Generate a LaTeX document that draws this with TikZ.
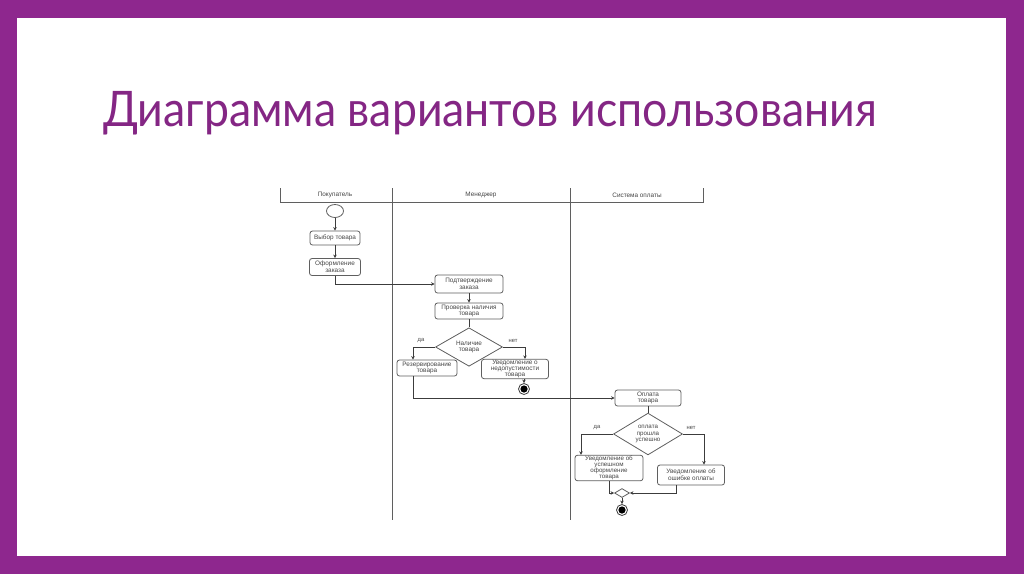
\documentclass[tikz,border=0pt]{standalone}
\usepackage{fontspec}
\setmainfont{Liberation Sans}
\newfontfamily\titlefont{Lato}
\usetikzlibrary{shapes.geometric, arrows.meta, positioning, calc}
\definecolor{cpurple}{RGB}{142, 39, 142}
\definecolor{ctitle}{RGB}{132, 38, 132}
\definecolor{cline}{RGB}{60, 60, 60}
\definecolor{cbox}{RGB}{95, 95, 95}
\definecolor{ctext}{RGB}{70, 70, 70}

\tikzset{
  actbox/.style={draw=cbox, line width=0.8pt, rounded corners=2.5pt, fill=white, align=center,
    text=ctext, inner sep=1pt, font=\fontsize{6.4}{6.8}\selectfont},
  choice/.style={draw=cbox, line width=0.8pt, diamond, fill=white, align=center, inner sep=0pt,
    text=ctext, font=\fontsize{6.4}{6.8}\selectfont},
  startnode/.style={ellipse, draw=cbox, line width=0.8pt, minimum width=17pt, minimum height=13pt},
  endnode/.style={circle, draw=cline, line width=0.8pt, minimum size=11pt, inner sep=0pt,
    path picture={\fill[black] (path picture bounding box.center) circle (3.6pt);}},
  flow/.style={draw=cline, line width=0.8pt, -{Stealth[length=3.5pt, width=3.5pt]}},
  plain/.style={draw=cline, line width=0.8pt},
  lane/.style={draw=cbox, line width=0.9pt},
  lanename/.style={text=ctext, font=\fontsize{6.4}{6.8}\selectfont},
  guard/.style={text=ctext, font=\fontsize{5.8}{6.4}\selectfont},
}

\begin{document}
\begin{tikzpicture}[x=1pt, y=-1pt]
  \useasboundingbox (0,0) rectangle (1024,574);
  \fill[cpurple] (0,0) rectangle (1024,574);
  \fill[white] (17,18) rectangle (1006,556);
  \node[anchor=base west, text=ctitle, inner sep=0pt, font=\titlefont\fontsize{49}{52}\selectfont]
    (title) at (103,126) {\scalebox{0.91}[1]{Диаграмма вариантов использования}};

  \draw[lane] (280,188) -- (280,202) -- (703,202) -- (703,188);
  \draw[lane] (392,188) -- (392,520);
  \draw[lane] (570,188) -- (570,520);
  \node[lanename] (buyer) at (335,195) {Покупатель};
  \node[lanename] (manager) at (481,195) {Менеджер};
  \node[lanename] (paysys) at (637,195) {Система оплаты};

  \node[startnode] (start) at (335,211) {};
  \node[actbox, minimum width=50pt, minimum height=14pt] (pick) at (335,238) {Выбор товара};
  \node[actbox, minimum width=51pt, minimum height=17pt] (order) at (335,267) {Оформление\\заказа};
  \node[actbox, minimum width=68pt, minimum height=18pt] (confirm) at (469,284) {Подтверждение\\заказа};
  \node[actbox, minimum width=68pt, minimum height=16pt] (check) at (469,311) {Проверка наличия\\товара};
  \node[choice, minimum width=67pt, minimum height=29pt] (avail) at (469,347) {Наличие\\товара};
  \node[actbox, minimum width=60pt, minimum height=16pt] (reserve) at (427,368) {Резервирование\\товара};
  \node[actbox, minimum width=67pt, minimum height=15pt, font=\fontsize{6.4}{5.8}\selectfont]
    (deny) at (515,369) {Уведомление о\\недопустимости\\товара};
  \node[endnode] (end1) at (524,389) {};

  \node[actbox, minimum width=66pt, minimum height=16pt] (pay) at (648,398) {Оплата\\товара};
  \node[choice, minimum width=69pt, minimum height=29pt, font=\fontsize{6.2}{6.2}\selectfont]
    (paid) at (648,434) {оплата\\прошла\\успешно};
  \node[actbox, minimum width=68pt, minimum height=21pt, font=\fontsize{6.2}{5.9}\selectfont]
    (ok) at (609,468) {Уведомление об\\успешном\\оформление\\товара};
  \node[actbox, minimum width=67pt, minimum height=20pt] (err) at (691,475) {Уведомление об\\ошибке оплаты};
  \node[choice, minimum width=15pt, minimum height=9pt] (merge) at (622,493) {};
  \node[endnode] (end2) at (622,510) {};

  \draw[flow] (start) -- (pick);
  \draw[flow] (pick) -- (order);
  \draw[flow] (order.south) |- (confirm.west);
  \draw[flow] (confirm) -- (check);
  \draw[plain] (check) -- (avail);
  \draw[flow] (avail.west) -| ([xshift=-14pt]reserve.north);
  \draw[flow] (avail.east) -| ([xshift=10pt]deny.north);
  \node[guard] (yes1) at (421,341) {да};
  \node[guard] (no1) at (513,341) {нет};
  \draw[flow] ([xshift=9pt]deny.south) -- (end1);
  \draw[flow] ([xshift=-14pt]reserve.south) |- (pay.west);
  \draw[plain] (pay) -- (paid);
  \draw[flow] (paid.west) -| ([xshift=-28pt]ok.north);
  \draw[flow] (paid.east) -| ([xshift=13pt]err.north);
  \node[guard] (yes2) at (597,428) {да};
  \node[guard] (no2) at (691,428) {нет};
  \draw[flow] (ok.south) |- (merge.west);
  \draw[flow] ([xshift=-15pt]err.south) |- (merge.east);
  \draw[flow] (merge) -- (end2);
\end{tikzpicture}
\end{document}
